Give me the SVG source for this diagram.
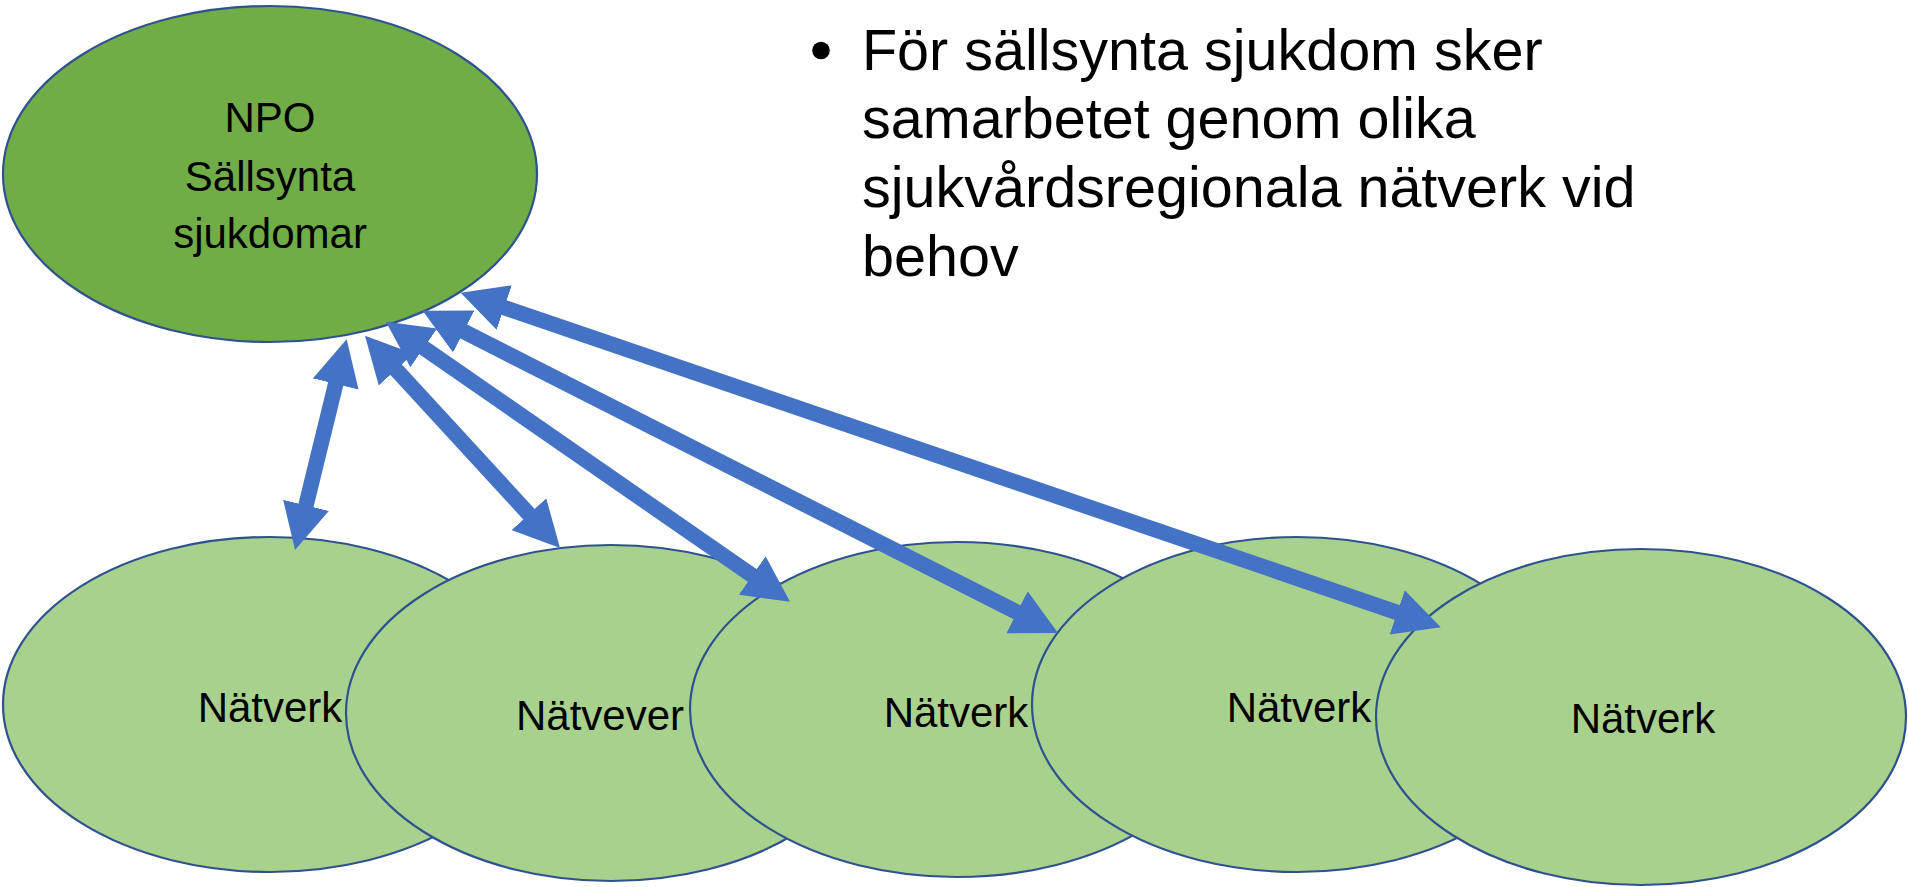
<svg xmlns="http://www.w3.org/2000/svg" width="1908" height="887" viewBox="0 0 1908 887">
  <style>
    .npo { fill: #70AD47; stroke: #2F528F; stroke-width: 2.2; }
    .net { fill: #A9D18E; stroke: #2F528F; stroke-width: 2.2; }
    .label { font-family: "Liberation Sans", Arial, sans-serif; font-size: 42px; fill: #000000; }
    .bullet-text { font-family: "Liberation Sans", Arial, sans-serif; font-size: 57.5px; fill: #000000; }
    .link { fill: none; stroke: #4472C4; stroke-width: 15.5; stroke-linecap: butt; marker-start: url(#head); marker-end: url(#head); }
  </style>
  <defs>
    <!-- triangular arrowhead; the line end sits 20px behind the tip -->
    <marker id="head" markerUnits="userSpaceOnUse" viewBox="0 0 46 47" markerWidth="46" markerHeight="47" refX="26" refY="23.5" orient="auto-start-reverse">
      <path d="M0,0 L46,23.5 L0,47 Z" fill="#4472C4"/>
    </marker>
  </defs>

  <rect width="1908" height="887" fill="#FFFFFF"/>

  <g id="npo">
    <ellipse class="npo" cx="270" cy="174" rx="267" ry="168"/>
    <text class="label" x="270" y="132" text-anchor="middle">NPO</text>
    <text class="label" x="270" y="191" text-anchor="middle">Sällsynta</text>
    <text class="label" x="270" y="248" text-anchor="middle">sjukdomar</text>
  </g>

  <g id="natverk-1">
    <ellipse class="net" cx="270" cy="704.5" rx="267" ry="167.5"/>
    <text class="label" x="270" y="722" text-anchor="middle">Nätverk</text>
  </g>
  <g id="natverk-2">
    <ellipse class="net" cx="611" cy="713" rx="265" ry="168"/>
    <text class="label" x="516" y="730">Nätvever</text>
  </g>
  <g id="natverk-3">
    <ellipse class="net" cx="957" cy="709.5" rx="267" ry="167.5"/>
    <text class="label" x="956" y="727" text-anchor="middle">Nätverk</text>
  </g>
  <g id="natverk-4">
    <ellipse class="net" cx="1297" cy="704.5" rx="265" ry="167.5"/>
    <text class="label" x="1299" y="722" text-anchor="middle">Nätverk</text>
  </g>
  <g id="natverk-5">
    <ellipse class="net" cx="1641" cy="717" rx="265" ry="168"/>
    <text class="label" x="1643" y="733" text-anchor="middle">Nätverk</text>
  </g>

  <g id="connectors">
    <path class="link" d="M341.9,358.7 L299.8,530.6"/>
    <path class="link" d="M378.5,350.4 L546.5,533.3"/>
    <path class="link" d="M402.4,333.1 L773.6,590.3"/>
    <path class="link" d="M440.5,319.7 L1040.2,624.0"/>
    <path class="link" d="M479.6,299.2 L1421.8,620.8"/>
  </g>

  <g id="note">
    <circle cx="821" cy="50.5" r="8.8" fill="#000000"/>
    <text class="bullet-text" x="862" y="70">För sällsynta sjukdom sker</text>
    <text class="bullet-text" x="862" y="138">samarbetet genom olika</text>
    <text class="bullet-text" x="862" y="207">sjukvårdsregionala nätverk vid</text>
    <text class="bullet-text" x="862" y="276">behov</text>
  </g>
</svg>
